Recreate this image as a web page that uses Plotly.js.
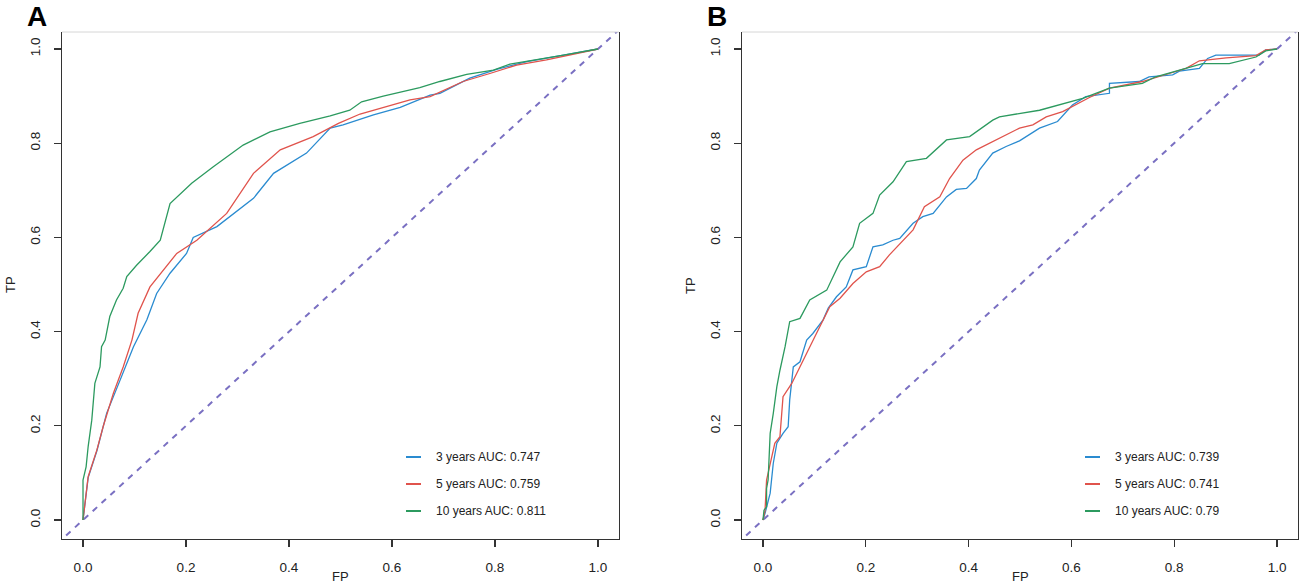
<!DOCTYPE html>
<html>
<head>
<meta charset="utf-8">
<script src="https://cdn.plot.ly/plotly-3.0.1.min.js"></script>
<style>html,body{margin:0;padding:0;background:#fff;}#chart{width:1299px;height:585px;}</style>
</head>
<body>
<div id="chart"></div>
<script>
// ---------- data ----------
const panelLabels = ["A", "B"];
const seriesNames = ["3 years", "5 years", "10 years"];
const aucA = ["0.747", "0.759", "0.811"];
const aucB = ["0.739", "0.741", "0.79"];
const tickVals = [0, 0.2, 0.4, 0.6, 0.8, 1.0];
const tickText = ["0.0", "0.2", "0.4", "0.6", "0.8", "1.0"];
const diagX = [-0.05, 1.05];
const diagY = [-0.05, 1.05];

// Panel A
const a3_fp = [0, .004, .010, .027, .046, .072, .098, .124, .143, .169, .201, .214, .260, .331, .370, .434, .480, .505, .564, .616, .674, .693, .751, .803, .862, .933, 1.0];
const a3_tp = [0, .040, .090, .147, .227, .297, .368, .425, .481, .524, .566, .600, .623, .683, .736, .779, .832, .839, .860, .876, .902, .906, .938, .957, .973, .987, 1.0];
const a5_fp = [0, .004, .010, .027, .039, .059, .078, .095, .107, .130, .156, .182, .221, .279, .331, .383, .447, .496, .538, .596, .635, .674, .738, .790, .842, .900, .965, 1.0];
const a5_tp = [0, .042, .092, .149, .198, .269, .325, .382, .439, .495, .531, .566, .594, .651, .736, .786, .814, .842, .862, .880, .892, .899, .931, .948, .966, .977, .992, 1.0];
const a10_fp = [0, 0, .006, .010, .017, .023, .033, .036, .043, .052, .065, .078, .085, .104, .130, .150, .169, .211, .253, .311, .363, .421, .480, .518, .541, .583, .654, .693, .745, .797, .829, .881, .933, 1.0];
const a10_tp = [0, .085, .113, .156, .212, .290, .325, .368, .382, .432, .467, .492, .517, .541, .570, .594, .672, .715, .750, .796, .824, .842, .858, .870, .888, .900, .918, .931, .946, .955, .968, .977, .987, 1.0];

// Panel B
const b3_fp = [0, .004, .014, .020, .027, .039, .049, .052, .059, .072, .085, .097, .117, .127, .143, .162, .175, .201, .214, .233, .253, .266, .292, .311, .331, .357, .376, .396, .415, .421, .447, .473, .499, .538, .573, .602, .628, .674, .674, .732, .751, .797, .810, .849, .865, .881, .965, .978, 1.0];
const b3_tp = [0, .014, .057, .120, .163, .184, .198, .255, .325, .336, .382, .396, .425, .450, .474, .495, .531, .538, .580, .584, .594, .598, .630, .644, .651, .686, .702, .704, .725, .743, .779, .793, .805, .832, .846, .881, .899, .906, .927, .931, .941, .945, .953, .959, .980, .987, .987, .998, 1.0];
const b5_fp = [0, .004, .007, .017, .023, .033, .039, .056, .065, .085, .104, .130, .150, .175, .201, .227, .246, .266, .292, .314, .344, .363, .389, .415, .434, .460, .499, .525, .551, .583, .635, .674, .738, .790, .823, .849, .901, .959, .978, 1.0];
const b5_tp = [0, .020, .085, .134, .163, .177, .262, .290, .311, .354, .396, .453, .471, .502, .527, .538, .563, .587, .616, .665, .686, .725, .764, .786, .796, .810, .832, .839, .856, .867, .897, .917, .931, .948, .959, .975, .981, .986, .998, 1.0];
const b10_fp = [0, .002, .007, .007, .010, .014, .020, .027, .033, .043, .052, .072, .091, .124, .150, .175, .188, .214, .227, .253, .279, .318, .357, .402, .447, .460, .538, .577, .622, .674, .738, .764, .823, .855, .907, .959, .978, 1.0];
const b10_tp = [0, .021, .028, .067, .085, .184, .226, .283, .318, .368, .421, .428, .467, .488, .548, .580, .630, .651, .690, .718, .761, .768, .807, .814, .849, .856, .870, .881, .895, .917, .927, .941, .959, .969, .969, .983, .996, 1.0];

const colors = ["#2a8bd0", "#e0534c", "#2c9a5f"];
const diagColor = "#7a70c2";

// ---------- build ----------
const panels = [
  {fps: [a3_fp, a5_fp, a10_fp], tps: [a3_tp, a5_tp, a10_tp], auc: aucA, xa: "x", ya: "y", dom: [62, 619]},
  {fps: [b3_fp, b5_fp, b10_fp], tps: [b3_tp, b5_tp, b10_tp], auc: aucB, xa: "x2", ya: "y2", dom: [742, 1298]}
];
const W = 1299, H = 585;
const yDom = [(H - 539) / H, (H - 32) / H];
const FONT = "Liberation Sans, Arial, sans-serif";

const traces = [];
const shapes = [];
const annotations = [];

panels.forEach((p, pi) => {
  traces.push({x: diagX, y: diagY, xaxis: p.xa, yaxis: p.ya, mode: "lines",
    line: {color: diagColor, width: 2, dash: "6px,6px"}, showlegend: false, hoverinfo: "skip"});
  for (let i = 0; i < 3; i++) {
    traces.push({x: p.fps[i], y: p.tps[i], xaxis: p.xa, yaxis: p.ya, mode: "lines",
      line: {color: colors[i], width: 1.3}, showlegend: false});
  }
  const x0 = p.dom[0] / W, x1 = p.dom[1] / W;
  shapes.push({type: "line", xref: "paper", yref: "paper", x0: x0, x1: x1, y0: yDom[1], y1: yDom[1],
    line: {color: "#d6d6d6", width: 1}});
  const legLineX = p.dom[0] + (pi === 0 ? 344 : 343);
  const legY = [457, 484, 511];
  for (let i = 0; i < 3; i++) {
    shapes.push({type: "line", xref: "paper", yref: "paper",
      x0: legLineX / W, x1: (legLineX + 15) / W, y0: (H - legY[i]) / H, y1: (H - legY[i]) / H,
      line: {color: colors[i], width: 2}});
    annotations.push({xref: "paper", yref: "paper", x: (legLineX + 28) / W, y: (H - legY[i]) / H,
      xanchor: "left", yanchor: "middle", showarrow: false,
      text: seriesNames[i] + " AUC: " + p.auc[i], font: {family: FONT, size: 12, color: "#222"}});
  }
  annotations.push({xref: "paper", yref: "paper", x: (p.dom[0] - 25) / W, y: (H - 16) / H,
    xanchor: "center", yanchor: "middle", showarrow: false,
    text: "<b>" + panelLabels[pi] + "</b>", font: {family: FONT, size: 28, color: "#000"}});
  annotations.push({xref: "paper", yref: "paper", x: (x0 + x1) / 2, y: (H - 576) / H,
    xanchor: "center", yanchor: "middle", showarrow: false,
    text: "FP", font: {family: FONT, size: 13, color: "#222"}});
  annotations.push({xref: "paper", yref: "paper", x: (p.dom[0] - 52) / W, y: (H - 285) / H,
    xanchor: "center", yanchor: "middle", showarrow: false, textangle: -90,
    text: "TP", font: {family: FONT, size: 13, color: "#222"}});
});

function xAxis(dom) {
  return {domain: [dom[0] / W, dom[1] / W], range: [-0.0408, 1.0408], showgrid: false, zeroline: false,
    showline: true, linecolor: "#333", linewidth: 1.3, mirror: false,
    ticks: "outside", ticklen: 7, tickcolor: "#333", tickwidth: 1.2,
    tickvals: tickVals, ticktext: tickText, ticklabelstandoff: 8,
    tickfont: {family: FONT, size: 13.5, color: "#222"}, fixedrange: true};
}
function yAxis() {
  return {domain: yDom, range: [-0.0403, 1.0361], showgrid: false, zeroline: false,
    showline: true, linecolor: "#333", linewidth: 1.3, mirror: true,
    ticks: "outside", ticklen: 7, tickcolor: "#333", tickwidth: 1.2,
    tickvals: tickVals, ticktext: tickText, tickangle: -90, ticklabelstandoff: 8,
    tickfont: {family: FONT, size: 13.5, color: "#222"}, fixedrange: true};
}

const layout = {
  width: W, height: H,
  margin: {l: 0, r: 0, t: 0, b: 0},
  paper_bgcolor: "#fff", plot_bgcolor: "#fff",
  showlegend: false,
  xaxis: Object.assign(xAxis(panels[0].dom), {anchor: "y"}),
  yaxis: Object.assign(yAxis(), {anchor: "x"}),
  xaxis2: Object.assign(xAxis(panels[1].dom), {anchor: "y2"}),
  yaxis2: Object.assign(yAxis(), {anchor: "x2"}),
  shapes: shapes,
  annotations: annotations
};

Plotly.newPlot("chart", traces, layout, {displayModeBar: false, staticPlot: true});
</script>
</body>
</html>
